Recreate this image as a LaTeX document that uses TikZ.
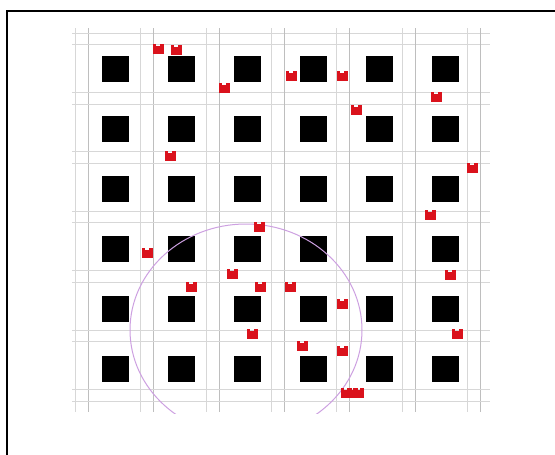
\documentclass[tikz,border=0pt]{standalone}
\definecolor{redc}{RGB}{218,18,28}
\definecolor{circc}{RGB}{205,160,225}
\definecolor{gridA}{RGB}{215,215,215}
\definecolor{gridB}{RGB}{190,190,190}
\tikzset{
  blacksq/.style={fill=black},
  gridlineA/.style={draw=gridA,line width=0.7pt},
  gridlineB/.style={draw=gridB,line width=0.7pt},
  framestyle/.style={draw=black,line width=2pt},
  redmark/.pic={
    \fill[redc] (-5.5,-3.5) rectangle (5.5,5);
    \fill[redc] (-5.5,-5.5) rectangle (-1.8,-3.5);
    \fill[redc] (1.8,-5.5) rectangle (5.5,-3.5);
  }
}
\begin{document}
\begin{tikzpicture}[x=1pt,y=-1pt]
\useasboundingbox (0,0) rectangle (555,455);
\fill[white] (0,0) rectangle (555,455);
% frame (only top and left edges visible)
\draw[framestyle] (7,460) -- (7,11) -- (560,11);
% grid lines
\foreach \k in {0,...,6}{
  \pgfmathsetmacro{\bx}{82+65.3*\k}
  \draw[gridlineA] (\bx-6.5,28) -- (\bx-6.5,412);
  \draw[gridlineB] (\bx+6.5,28) -- (\bx+6.5,412);
  \pgfmathsetmacro{\by}{38.5+59.4*\k}
  \draw[gridlineA] (72,\by-5.5) -- (490,\by-5.5);
  \draw[gridlineA] (72,\by+6) -- (490,\by+6);
}
% black squares
\foreach \i in {0,...,5}{
  \foreach \j in {0,...,5}{
    \pgfmathsetmacro{\cx}{115.5+66*\i}
    \pgfmathsetmacro{\cy}{69+60*\j}
    \fill[blacksq] (\cx-13.5,\cy-13) rectangle (\cx+13.5,\cy+13);
  }
}
% circle (ellipse in pixel space), clipped at grid bottom
\begin{scope}
  \clip (0,0) rectangle (555,413);
  \draw[circc,line width=1pt] (246,330) ellipse [x radius=116, y radius=106];
\end{scope}
% red marks
\foreach \px/\py in {158/49,176/50,224/88,291/76,342/76,436/97,356/110,170/156,
  472/168,430/215,259/227,147/253,232/274,450/275,191/287,260/287,290/287,
  342/304,252/334,457/334,302/346,342/351,346/393,352/393,358/393}{
  \pic at (\px,\py) {redmark};
}
\end{tikzpicture}
\end{document}
